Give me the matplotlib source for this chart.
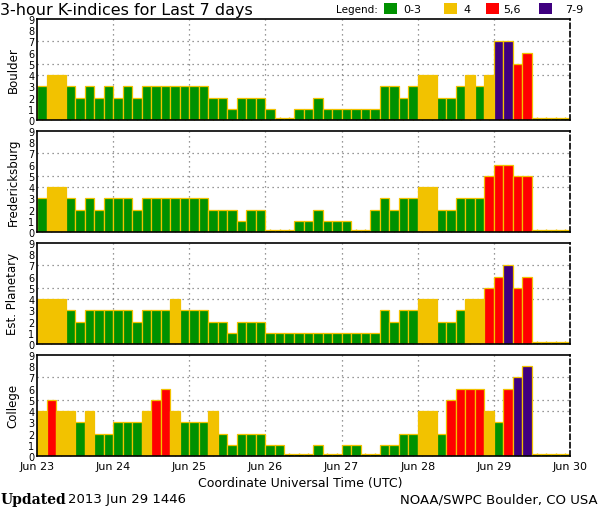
import matplotlib
matplotlib.use("Agg")
import matplotlib.pyplot as plt
from matplotlib.patches import Rectangle

# 3-hour K-index values, 8 per day, Jun 23 00 UTC .. Jun 29 24 UTC
boulder = [3, 4, 4, 3, 2, 3, 2, 3,
           2, 3, 2, 3, 3, 3, 3, 3,
           3, 3, 2, 2, 1, 2, 2, 2,
           1, 0, 0, 1, 1, 2, 1, 1,
           1, 1, 1, 1, 3, 3, 2, 3,
           4, 4, 2, 2, 3, 4, 3, 4,
           7, 7, 5, 6, 0, 0, 0, 0]
fredericksburg = [3, 4, 4, 3, 2, 3, 2, 3,
                  3, 3, 2, 3, 3, 3, 3, 3,
                  3, 3, 2, 2, 2, 1, 2, 2,
                  0, 0, 0, 1, 1, 2, 1, 1,
                  1, 0, 0, 2, 3, 2, 3, 3,
                  4, 4, 2, 2, 3, 3, 3, 5,
                  6, 6, 5, 5, 0, 0, 0, 0]
planetary = [4, 4, 4, 3, 2, 3, 3, 3,
             3, 3, 2, 3, 3, 3, 4, 3,
             3, 3, 2, 2, 1, 2, 2, 2,
             1, 1, 1, 1, 1, 1, 1, 1,
             1, 1, 1, 1, 3, 2, 3, 3,
             4, 4, 2, 2, 3, 4, 4, 5,
             6, 7, 5, 6, 0, 0, 0, 0]
college = [4, 5, 4, 4, 3, 4, 2, 2,
           3, 3, 3, 4, 5, 6, 4, 3,
           3, 3, 4, 2, 1, 2, 2, 2,
           1, 1, 0, 0, 0, 1, 0, 0,
           1, 1, 0, 0, 1, 1, 2, 2,
           4, 4, 2, 5, 6, 6, 6, 4,
           3, 6, 7, 8, 0, 0, 0, 0]

stations = ["Boulder", "Fredericksburg", "Est. Planetary", "College"]
series = [boulder, fredericksburg, planetary, college]
day_labels = ["Jun 23", "Jun 24", "Jun 25", "Jun 26", "Jun 27", "Jun 28", "Jun 29", "Jun 30"]

GREEN = "#009100"
YELLOW = "#f2c200"
RED = "#ff0000"
PURPLE = "#3f007f"


def k_color(k):
    if k >= 7:
        return PURPLE
    if k >= 5:
        return RED
    if k == 4:
        return YELLOW
    return GREEN


W, H = 600, 510
fig = plt.figure(figsize=(6, 5.1), dpi=100)

for i, (name, vals) in enumerate(zip(stations, series)):
    top = 20 + 112 * i
    ax = fig.add_axes([37 / W, 1 - (top + 101) / H, 533 / W, 101 / H])
    xs = [j + 0.5 for j in range(len(vals))]
    heights = [v if v > 0 else 0.15 for v in vals]
    ax.bar(xs, heights, width=1.0, color=[k_color(v) for v in vals],
           edgecolor=YELLOW, linewidth=0.9, zorder=2)

    ax.set_xlim(0, 56)
    ax.set_ylim(0, 9)
    ax.set_yticks(range(10))
    ax.set_yticklabels([str(k) for k in range(10)], fontsize=7)
    ax.tick_params(axis="y", length=0, pad=2)
    ax.set_xticks(range(0, 57, 8))
    ax.set_xticks(xs, minor=True)
    ax.tick_params(axis="x", which="minor", direction="in", length=2.5,
                   width=1, color=YELLOW)
    ax.tick_params(axis="x", which="major", length=0)
    if i == 3:
        ax.set_xticklabels(day_labels, fontsize=8)
    else:
        ax.set_xticklabels([])

    for g in (4, 5, 7):
        ax.axhline(g, color="#777777", linestyle=(0, (1, 3)), linewidth=0.9, zorder=1)
    for d in range(8, 56, 8):
        ax.axvline(d, color="#777777", linestyle=(0, (1, 3)), linewidth=0.9, zorder=1)

    for side in ("left", "top", "bottom"):
        ax.spines[side].set_linewidth(1.2)
    ax.spines["right"].set_linestyle((0, (3, 2)))
    ax.spines["right"].set_linewidth(1.2)

    fig.text(13 / W, 1 - (top + 50) / H, name, rotation=90,
             ha="center", va="center", fontsize=8.5)

fig.text(0 / W, 1 - 10 / H, "3-hour K-indices for Last 7 days",
         ha="left", va="center", fontsize=11.5)

# legend along the top
fig.text(336 / W, 1 - 10 / H, "Legend:", ha="left", va="center", fontsize=7.5)
legend_items = [(384, GREEN, 403, "0-3"), (444, YELLOW, 463, "4"),
                (486, RED, 503, "5,6"), (539, PURPLE, 565, "7-9")]
for sx, col, tx, lab in legend_items:
    fig.add_artist(Rectangle((sx / W, 1 - 15 / H), 13 / W, 11 / H,
                             transform=fig.transFigure, facecolor=col,
                             edgecolor="none"))
    fig.text(tx / W, 1 - 10 / H, lab, ha="left", va="center", fontsize=8)

fig.text(300 / W, 1 - 484 / H, "Coordinate Universal Time (UTC)",
         ha="center", va="center", fontsize=9)
fig.text(1 / W, 1 - 500 / H, "Updated", ha="left", va="center",
         fontsize=10, fontweight="bold", family="DejaVu Serif")
fig.text(68 / W, 1 - 500 / H, "2013 Jun 29 1446", ha="left", va="center",
         fontsize=9.5)
fig.text(598 / W, 1 - 500 / H, "NOAA/SWPC Boulder, CO USA", ha="right",
         va="center", fontsize=9.5)

fig.savefig("out.png", dpi=100)
